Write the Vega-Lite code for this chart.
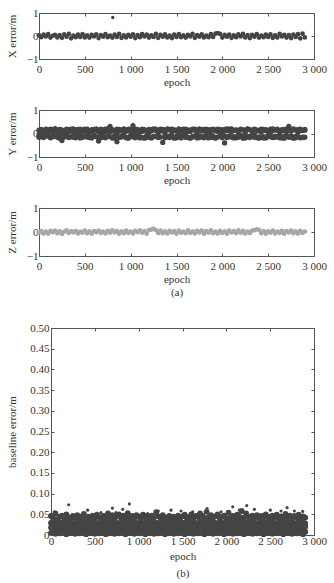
{
"$schema": "https://vega.github.io/schema/vega-lite/v6.json",
"background": "white",
"padding": {"left": 5, "top": 6, "right": 4, "bottom": 1},
"spacing": 15,
"config": {
  "font": "Liberation Serif",
  "view": {"stroke": "#555", "strokeWidth": 1},
  "axis": {"grid": false, "labelFont": "Liberation Serif", "titleFont": "Liberation Serif", "labelFontSize": 11, "titleFontSize": 11, "titleFontWeight": "normal", "labelColor": "#333", "titleColor": "#333", "tickColor": "#555", "domainColor": "#555", "tickSize": -3, "labelPadding": 4, "domain": false, "labelFlush": false, "labelOverlap": false},
  "axisY": {"minExtent": 0}
},
"datasets": {
"a": [
{"e":0,"x":0.03,"y":[0.14,-0.06,-0.16],"z":-0.03,"b":[0.005,0.018,0.029,0.046]},
{"e":25,"x":-0.05,"y":[0.08,-0.13,0.17],"z":0.04,"b":[0.009,0.014,0.031,0.040]},
{"e":50,"x":0.06,"y":[-0.17,0.03,0.12],"z":-0.06,"b":[0.003,0.021,0.026,0.052]},
{"e":75,"x":-0.02,"y":[0.18,-0.09,-0.02],"z":0.02,"b":[0.007,0.016,0.033,0.038]},
{"e":100,"x":0.08,"y":[-0.12,0.15,0.05],"z":-0.07,"b":[0.004,0.019,0.027,0.044]},
{"e":125,"x":-0.07,"y":[0.11,-0.18,0.19],"z":0.05,"b":[0.010,0.013,0.030,0.047]},
{"e":150,"x":0.01,"y":[-0.05,0.16,-0.14],"z":-0.01,"b":[0.006,0.022,0.025,0.041]},
{"e":175,"x":0.05,"y":[0.13,-0.11,0.21],"z":0.06,"b":[0.002,0.017,0.032,0.050]},
{"e":200,"x":-0.06,"y":[-0.16,0.07,0.14],"z":-0.05,"b":[0.008,0.015,0.028,0.043]},
{"e":225,"x":0.04,"y":[0.17,-0.04,-0.2],"z":0.03,"b":[0.005,0.020,0.034,0.039]},
{"e":250,"x":-0.08,"y":[-0.3,0.1,0.15],"z":-0.08,"b":[0.009,0.012,0.029,0.046]},
{"e":275,"x":0.07,"y":[0.12,-0.15,0.02],"z":0.01,"b":[0.003,0.018,0.026,0.042]},
{"e":300,"x":-0.03,"y":[-0.09,0.19,-0.13],"z":0.07,"b":[0.007,0.023,0.031,0.048]},
{"e":325,"x":0.09,"y":[0.16,-0.17,0.06],"z":-0.04,"b":[0.004,0.014,0.027,0.040]},
{"e":350,"x":-0.1,"y":[-0.14,0.11,0.18],"z":0.04,"b":[0.010,0.019,0.033,0.045]},
{"e":375,"x":0.02,"y":[0.2,-0.08,-0.16],"z":-0.02,"b":[0.006,0.016,0.025,0.051]},
{"e":400,"x":-0.05,"y":[-0.18,0.14,0.01],"z":0.05,"b":[0.002,0.021,0.030,0.041]},
{"e":425,"x":0.06,"y":[0.1,-0.12,0.17],"z":-0.06,"b":[0.008,0.013,0.028,0.044]},
{"e":450,"x":-0.04,"y":[-0.07,0.18,-0.19],"z":0.02,"b":[0.005,0.018,0.032,0.039]},
{"e":475,"x":0.08,"y":[0.15,-0.16,0.08],"z":-0.03,"b":[0.009,0.022,0.026,0.047]},
{"e":500,"x":-0.06,"y":[-0.13,0.09,0.19],"z":0.06,"b":[0.003,0.015,0.031,0.042]},
{"e":525,"x":0.03,"y":[0.18,-0.1,-0.15],"z":-0.05,"b":[0.007,0.017,0.029,0.049]},
{"e":550,"x":-0.07,"y":[-0.17,0.12,0.04],"z":0.03,"b":[0.004,0.020,0.027,0.043]},
{"e":575,"x":0.05,"y":[0.11,-0.19,0.16],"z":-0.07,"b":[0.010,0.014,0.033,0.040]},
{"e":600,"x":-0.02,"y":[-0.11,0.17,-0.06],"z":0.04,"b":[0.006,0.023,0.025,0.046]},
{"e":625,"x":0.07,"y":[0.14,-0.14,0.2],"z":-0.01,"b":[0.002,0.016,0.030,0.041]},
{"e":650,"x":-0.09,"y":[-0.32,0.06,0.13],"z":0.06,"b":[0.008,0.019,0.028,0.052]},
{"e":675,"x":0.04,"y":[0.19,-0.07,-0.17],"z":-0.04,"b":[0.005,0.012,0.032,0.044]},
{"e":700,"x":-0.03,"y":[-0.15,0.15,0.03],"z":0.02,"b":[0.009,0.021,0.026,0.048]},
{"e":725,"x":0.08,"y":[0.09,-0.18,0.18],"z":-0.06,"b":[0.003,0.018,0.031,0.039]},
{"e":750,"x":-0.05,"y":[-0.1,0.2,-0.12],"z":0.05,"b":[0.007,0.015,0.029,0.045]},
{"e":775,"x":0.02,"y":[0.3,-0.13,0.07],"z":-0.03,"b":[0.004,0.022,0.027,0.050]},
{"e":800,"x":-0.07,"y":[-0.19,0.11,0.16],"z":0.07,"b":[0.010,0.013,0.034,0.042]},
{"e":825,"x":0.06,"y":[0.13,-0.09,-0.2],"z":-0.02,"b":[0.006,0.019,0.025,0.047]},
{"e":850,"x":-0.04,"y":[-0.35,0.18,0.02],"z":0.04,"b":[0.002,0.017,0.030,0.041]},
{"e":875,"x":0.09,"y":[0.17,-0.16,0.1],"z":-0.07,"b":[0.008,0.024,0.028,0.053]},
{"e":900,"x":-0.08,"y":[-0.12,0.14,-0.15],"z":0.03,"b":[0.005,0.014,0.032,0.043]},
{"e":925,"x":0.03,"y":[0.2,-0.05,0.15],"z":-0.05,"b":[0.009,0.020,0.026,0.046]},
{"e":950,"x":-0.06,"y":[-0.16,0.1,-0.18],"z":0.06,"b":[0.003,0.016,0.031,0.040]},
{"e":975,"x":0.05,"y":[0.12,-0.2,0.19],"z":-0.04,"b":[0.007,0.021,0.029,0.048]},
{"e":1000,"x":-0.03,"y":[-0.08,0.16,-0.1],"z":0.02,"b":[0.004,0.018,0.027,0.044]},
{"e":1025,"x":0.07,"y":[0.33,-0.14,0.05],"z":-0.06,"b":[0.010,0.012,0.033,0.041]},
{"e":1050,"x":-0.09,"y":[-0.18,0.19,-0.03],"z":0.05,"b":[0.006,0.023,0.025,0.049]},
{"e":1075,"x":0.04,"y":[0.14,-0.11,0.17],"z":-0.01,"b":[0.002,0.015,0.030,0.043]},
{"e":1100,"x":-0.05,"y":[-0.13,0.08,-0.19],"z":0.07,"b":[0.008,0.019,0.028,0.046]},
{"e":1125,"x":0.08,"y":[0.18,-0.17,0.09],"z":-0.03,"b":[0.005,0.017,0.032,0.040]},
{"e":1150,"x":-0.02,"y":[-0.2,0.13,0.16],"z":0.04,"b":[0.009,0.022,0.026,0.047]},
{"e":1175,"x":0.06,"y":[0.1,-0.08,-0.16],"z":-0.07,"b":[0.003,0.014,0.031,0.042]},
{"e":1200,"x":-0.07,"y":[-0.15,0.17,0.04],"z":0.08,"b":[0.007,0.020,0.029,0.055]},
{"e":1225,"x":0.03,"y":[0.16,-0.19,0.12],"z":0.1,"b":[0.004,0.016,0.027,0.045]},
{"e":1250,"x":-0.04,"y":[-0.11,0.2,-0.14],"z":0.13,"b":[0.010,0.024,0.034,0.041]},
{"e":1275,"x":0.09,"y":[0.13,-0.12,0.18],"z":0.08,"b":[0.006,0.013,0.025,0.048]},
{"e":1300,"x":-0.08,"y":[-0.17,0.06,-0.08],"z":-0.04,"b":[0.002,0.018,0.030,0.043]},
{"e":1325,"x":0.05,"y":[0.19,-0.15,0.11],"z":0.06,"b":[0.008,0.021,0.028,0.039]},
{"e":1350,"x":-0.03,"y":[-0.38,0.12,0.17],"z":-0.05,"b":[0.005,0.015,0.032,0.046]},
{"e":1375,"x":0.07,"y":[0.11,-0.18,-0.02],"z":0.03,"b":[0.009,0.019,0.026,0.041]},
{"e":1400,"x":-0.06,"y":[-0.14,0.15,0.2],"z":-0.06,"b":[0.003,0.022,0.031,0.044]},
{"e":1425,"x":0.02,"y":[0.17,-0.1,-0.17],"z":0.05,"b":[0.007,0.014,0.029,0.040]},
{"e":1450,"x":-0.09,"y":[-0.09,0.18,0.07],"z":-0.02,"b":[0.004,0.017,0.027,0.047]},
{"e":1475,"x":0.06,"y":[0.14,-0.2,0.15],"z":0.04,"b":[0.010,0.023,0.033,0.042]},
{"e":1500,"x":-0.04,"y":[-0.18,0.1,-0.12],"z":-0.07,"b":[0.006,0.016,0.025,0.045]},
{"e":1525,"x":0.08,"y":[0.2,-0.13,0.04],"z":0.06,"b":[0.002,0.020,0.030,0.049]},
{"e":1550,"x":-0.05,"y":[-0.12,0.16,-0.19],"z":-0.03,"b":[0.008,0.013,0.028,0.041]},
{"e":1575,"x":0.03,"y":[0.12,-0.07,0.18],"z":0.02,"b":[0.005,0.019,0.032,0.043]},
{"e":1600,"x":-0.07,"y":[-0.16,0.19,-0.05],"z":-0.05,"b":[0.009,0.024,0.026,0.050]},
{"e":1625,"x":0.05,"y":[0.15,-0.17,0.1],"z":0.07,"b":[0.003,0.015,0.031,0.040]},
{"e":1650,"x":-0.02,"y":[-0.2,0.09,0.14],"z":-0.04,"b":[0.007,0.018,0.029,0.046]},
{"e":1675,"x":0.09,"y":[0.18,-0.12,-0.15],"z":0.03,"b":[0.004,0.021,0.027,0.044]},
{"e":1700,"x":-0.08,"y":[-0.1,0.14,0.19],"z":-0.06,"b":[0.010,0.014,0.034,0.052]},
{"e":1725,"x":0.04,"y":[0.13,-0.19,0.02],"z":0.05,"b":[0.006,0.022,0.025,0.047]},
{"e":1750,"x":-0.03,"y":[-0.17,0.2,-0.11],"z":-0.02,"b":[0.002,0.017,0.030,0.041]},
{"e":1775,"x":0.07,"y":[0.1,-0.14,0.16],"z":0.06,"b":[0.008,0.020,0.028,0.056]},
{"e":1800,"x":-0.06,"y":[-0.13,0.17,-0.18],"z":-0.07,"b":[0.005,0.013,0.032,0.043]},
{"e":1825,"x":0.02,"y":[0.19,-0.09,0.06],"z":0.04,"b":[0.009,0.019,0.026,0.048]},
{"e":1850,"x":-0.05,"y":[-0.19,0.12,0.15],"z":-0.03,"b":[0.003,0.023,0.031,0.042]},
{"e":1875,"x":0.08,"y":[0.16,-0.16,-0.04],"z":0.07,"b":[0.007,0.016,0.029,0.045]},
{"e":1900,"x":-0.04,"y":[-0.11,0.18,-0.16],"z":-0.05,"b":[0.004,0.018,0.027,0.050]},
{"e":1925,"x":0.1,"y":[0.14,-0.2,0.11],"z":0.02,"b":[0.010,0.021,0.033,0.041]},
{"e":1950,"x":0.13,"y":[-0.15,0.09,0.19],"z":-0.06,"b":[0.006,0.014,0.025,0.044]},
{"e":1975,"x":0.09,"y":[0.17,-0.12,-0.07],"z":0.05,"b":[0.002,0.020,0.030,0.047]},
{"e":2000,"x":-0.07,"y":[-0.18,0.15,0.03],"z":-0.04,"b":[0.008,0.017,0.028,0.040]},
{"e":2025,"x":0.05,"y":[-0.4,-0.1,0.17],"z":0.03,"b":[0.005,0.022,0.032,0.054]},
{"e":2050,"x":-0.03,"y":[0.12,-0.17,0.2],"z":-0.07,"b":[0.009,0.015,0.026,0.043]},
{"e":2075,"x":0.06,"y":[-0.14,0.19,-0.1],"z":0.06,"b":[0.003,0.019,0.031,0.046]},
{"e":2100,"x":-0.08,"y":[0.2,-0.15,0.08],"z":-0.02,"b":[0.007,0.024,0.029,0.041]},
{"e":2125,"x":0.03,"y":[-0.12,0.13,-0.19],"z":0.04,"b":[0.004,0.013,0.027,0.049]},
{"e":2150,"x":-0.05,"y":[0.15,-0.18,0.14],"z":-0.05,"b":[0.010,0.018,0.034,0.044]},
{"e":2175,"x":0.07,"y":[-0.16,0.11,-0.05],"z":0.07,"b":[0.006,0.021,0.025,0.058]},
{"e":2200,"x":-0.02,"y":[0.18,-0.08,0.16],"z":-0.03,"b":[0.002,0.016,0.030,0.042]},
{"e":2225,"x":0.09,"y":[-0.2,0.16,-0.13],"z":0.05,"b":[0.008,0.020,0.028,0.052]},
{"e":2250,"x":-0.06,"y":[0.11,-0.19,0.04],"z":-0.06,"b":[0.005,0.014,0.032,0.045]},
{"e":2275,"x":0.04,"y":[-0.13,0.2,0.18],"z":0.02,"b":[0.009,0.023,0.026,0.040]},
{"e":2300,"x":-0.09,"y":[0.16,-0.11,-0.17],"z":-0.04,"b":[0.003,0.017,0.031,0.047]},
{"e":2325,"x":0.05,"y":[-0.1,0.14,0.09],"z":0.06,"b":[0.007,0.019,0.029,0.043]},
{"e":2350,"x":-0.03,"y":[0.19,-0.16,-0.08],"z":0.08,"b":[0.004,0.022,0.027,0.048]},
{"e":2375,"x":0.08,"y":[-0.17,0.1,0.15],"z":0.11,"b":[0.010,0.015,0.033,0.041]},
{"e":2400,"x":-0.07,"y":[0.13,-0.2,-0.14],"z":0.09,"b":[0.006,0.018,0.025,0.046]},
{"e":2425,"x":0.02,"y":[-0.15,0.18,0.06],"z":-0.05,"b":[0.002,0.021,0.030,0.042]},
{"e":2450,"x":-0.05,"y":[0.17,-0.13,-0.19],"z":0.04,"b":[0.008,0.013,0.028,0.050]},
{"e":2475,"x":0.06,"y":[-0.19,0.12,0.16],"z":-0.07,"b":[0.005,0.020,0.032,0.044]},
{"e":2500,"x":-0.04,"y":[0.1,-0.09,-0.12],"z":0.03,"b":[0.009,0.016,0.026,0.040]},
{"e":2525,"x":0.07,"y":[-0.14,0.19,0.02],"z":-0.03,"b":[0.003,0.024,0.031,0.047]},
{"e":2550,"x":-0.08,"y":[0.2,-0.17,0.13],"z":0.06,"b":[0.007,0.014,0.029,0.043]},
{"e":2575,"x":0.03,"y":[-0.11,0.15,-0.16],"z":-0.06,"b":[0.004,0.019,0.027,0.049]},
{"e":2600,"x":-0.06,"y":[0.14,-0.14,0.19],"z":0.02,"b":[0.010,0.022,0.034,0.042]},
{"e":2625,"x":0.09,"y":[-0.18,0.08,-0.06],"z":-0.04,"b":[0.006,0.017,0.025,0.045]},
{"e":2650,"x":-0.02,"y":[0.16,-0.19,0.11],"z":0.05,"b":[0.002,0.020,0.030,0.041]},
{"e":2675,"x":0.05,"y":[-0.12,0.17,-0.2],"z":-0.07,"b":[0.008,0.013,0.028,0.051]},
{"e":2700,"x":-0.07,"y":[0.19,-0.1,0.07],"z":0.04,"b":[0.005,0.018,0.032,0.044]},
{"e":2725,"x":0.04,"y":[-0.16,0.14,0.3],"z":-0.02,"b":[0.009,0.023,0.026,0.047]},
{"e":2750,"x":-0.09,"y":[0.12,-0.15,-0.09],"z":0.06,"b":[0.003,0.015,0.031,0.040]},
{"e":2775,"x":0.06,"y":[-0.2,0.2,0.15],"z":-0.05,"b":[0.007,0.021,0.029,0.046]},
{"e":2800,"x":-0.04,"y":[0.15,-0.12,-0.18],"z":0.03,"b":[0.004,0.016,0.027,0.043]},
{"e":2825,"x":0.08,"y":[-0.13,0.16,0.05],"z":-0.06,"b":[0.010,0.019,0.033,0.049]},
{"e":2850,"x":-0.1,"y":[0.18,-0.18,0.12],"z":0.05,"b":[0.006,0.022,0.025,0.041]},
{"e":2875,"x":0.1,"y":[-0.17,0.13,-0.15],"z":-0.04,"b":[0.002,0.014,0.030,0.045]},
{"e":2900,"x":-0.06,"y":[0.14,-0.16,0.17],"z":0.02,"b":[0.008,0.020,0.028,0.042]}
],
"xo": [{"e":805,"v":0.8}],
"bo": [
{"e":38,"v":0.056},{"e":202,"v":0.073},{"e":418,"v":0.06},{"e":570,"v":0.054},{"e":741,"v":0.054},{"e":700,"v":0.065},{"e":818,"v":0.062},{"e":894,"v":0.075},{"e":1103,"v":0.052},{"e":1224,"v":0.058},{"e":1369,"v":0.06},{"e":1483,"v":0.058},{"e":1617,"v":0.056},{"e":1780,"v":0.064},{"e":1940,"v":0.056},{"e":2073,"v":0.068},{"e":2149,"v":0.06},{"e":2233,"v":0.071},{"e":2320,"v":0.062},{"e":2502,"v":0.06},{"e":2624,"v":0.058},{"e":2693,"v":0.066},{"e":2776,"v":0.058},{"e":2871,"v":0.057}
]
},
"vconcat": [
{
  "width": 275, "height": 46,
  "resolve": {"axis": {"x": "independent", "y": "independent"}},
  "layer": [
    {"data": {"name": "a"}, "mark": {"type": "circle", "size": 22, "opacity": 1, "color": "#444444"},
     "encoding": {
       "x": {"field": "e", "type": "quantitative", "scale": {"domain": [0, 3000], "nice": false}, "axis": {"values": [0,500,1000,1500,2000,2500,3000], "labelExpr": "replace(format(datum.value, ','), ',', ' ')", "title": "epoch", "titlePadding": 2, "labelPadding": 7}},
       "y": {"field": "x", "type": "quantitative", "scale": {"domain": [-1, 1], "nice": false}, "axis": {"values": [-1,0,1], "labelExpr": "datum.value == 0 ? '0' : datum.value > 0 ? '1' : '\u22121'", "title": "X error/m", "titlePadding": 6, "minExtent": 16, "maxExtent": 16}}}},
    {"data": {"name": "xo"}, "mark": {"type": "circle", "size": 12, "opacity": 1, "color": "#444444"},
     "encoding": {
       "x": {"field": "e", "type": "quantitative", "scale": {"domain": [0, 3000], "nice": false}, "axis": null},
       "y": {"field": "v", "type": "quantitative", "scale": {"domain": [-1, 1], "nice": false}, "axis": null}}},
    {"data": {"name": "xo"}, "mark": {"type": "circle", "opacity": 0},
     "encoding": {
       "x": {"field": "e", "type": "quantitative", "scale": {"domain": [0, 3000], "nice": false}, "axis": {"orient": "top", "labels": false, "title": null, "values": [0,500,1000,1500,2000,2500,3000]}},
       "y": {"field": "v", "type": "quantitative", "scale": {"domain": [-1, 1], "nice": false}, "axis": {"orient": "right", "labels": false, "title": null, "values": [-1,0,1]}}}}
  ]
},
{
  "width": 275, "height": 47,
  "resolve": {"axis": {"x": "independent", "y": "independent"}},
  "layer": [
    {"data": {"name": "a"}, "transform": [{"flatten": ["y"]}], "mark": {"type": "circle", "size": 28, "opacity": 1, "color": "#444444"},
     "encoding": {
       "x": {"field": "e", "type": "quantitative", "scale": {"domain": [0, 3000], "nice": false}, "axis": {"values": [0,500,1000,1500,2000,2500,3000], "labelExpr": "replace(format(datum.value, ','), ',', ' ')", "title": "epoch", "titlePadding": 2, "labelPadding": 7}},
       "y": {"field": "y", "type": "quantitative", "scale": {"domain": [-1, 1], "nice": false}, "axis": {"values": [-1,0,1], "labelExpr": "datum.value == 0 ? '0' : datum.value > 0 ? '1' : '\u22121'", "title": "Y error/m", "titlePadding": 6, "minExtent": 16, "maxExtent": 16}}}},
    {"data": {"name": "xo"}, "mark": {"type": "circle", "opacity": 0},
     "encoding": {
       "x": {"field": "e", "type": "quantitative", "scale": {"domain": [0, 3000], "nice": false}, "axis": {"orient": "top", "labels": false, "title": null, "values": [0,500,1000,1500,2000,2500,3000]}},
       "y": {"field": "v", "type": "quantitative", "scale": {"domain": [-1, 1], "nice": false}, "axis": {"orient": "right", "labels": false, "title": null, "values": [-1,0,1]}}}}
  ]
},
{
  "width": 275, "height": 48,
  "resolve": {"axis": {"x": "independent", "y": "independent"}},
  "layer": [
    {"data": {"name": "a"}, "mark": {"type": "circle", "size": 22, "opacity": 1, "color": "#a6a6a6"},
     "encoding": {
       "x": {"field": "e", "type": "quantitative", "scale": {"domain": [0, 3000], "nice": false}, "axis": {"values": [0,500,1000,1500,2000,2500,3000], "labelExpr": "replace(format(datum.value, ','), ',', ' ')", "title": ["epoch", "(a)"], "titlePadding": 2, "labelPadding": 7}},
       "y": {"field": "z", "type": "quantitative", "scale": {"domain": [-1, 1], "nice": false}, "axis": {"values": [-1,0,1], "labelExpr": "datum.value == 0 ? '0' : datum.value > 0 ? '1' : '\u22121'", "title": "Z error/m", "titlePadding": 6, "minExtent": 16, "maxExtent": 16}}}},
    {"data": {"name": "xo"}, "mark": {"type": "circle", "opacity": 0},
     "encoding": {
       "x": {"field": "e", "type": "quantitative", "scale": {"domain": [0, 3000], "nice": false}, "axis": {"orient": "top", "labels": false, "title": null, "values": [0,500,1000,1500,2000,2500,3000]}},
       "y": {"field": "v", "type": "quantitative", "scale": {"domain": [-1, 1], "nice": false}, "axis": {"orient": "right", "labels": false, "title": null, "values": [-1,0,1]}}}}
  ]
},
{
  "width": 275, "height": 207,
  "view": {"stroke": null},
  "resolve": {"axis": {"x": "independent", "y": "independent"}},
  "layer": [
    {"data": {"name": "a"}, "transform": [{"flatten": ["b"]}], "mark": {"type": "circle", "size": 34, "opacity": 1, "color": "#444444"},
     "encoding": {
       "x": {"field": "e", "type": "quantitative", "scale": {"domain": [0, 3000], "nice": false, "range": [12, 275]}, "axis": {"values": [0,500,1000,1500,2000,2500,3000], "labelExpr": "replace(format(datum.value, ','), ',', ' ')", "title": ["epoch", "(b)"], "titlePadding": 4, "titleLineHeight": 17, "labelPadding": 3, "domain": true}},
       "y": {"field": "b", "type": "quantitative", "scale": {"domain": [0, 0.5], "nice": false}, "axis": {"values": [0,0.05,0.1,0.15,0.2,0.25,0.3,0.35,0.4,0.45,0.5], "labelExpr": "datum.value == 0 ? '0' : format(datum.value, '.2f')", "title": "baseline error/m", "titlePadding": 10, "labelPadding": 5, "minExtent": 24, "maxExtent": 24, "offset": -12, "domain": true}}}},
    {"data": {"name": "bo"}, "mark": {"type": "circle", "size": 10, "opacity": 1, "color": "#444444"},
     "encoding": {
       "x": {"field": "e", "type": "quantitative", "scale": {"domain": [0, 3000], "nice": false, "range": [12, 275]}, "axis": null},
       "y": {"field": "v", "type": "quantitative", "scale": {"domain": [0, 0.5], "nice": false}, "axis": null}}},
    {"data": {"name": "bo"}, "mark": {"type": "circle", "opacity": 0},
     "encoding": {
       "x": {"field": "e", "type": "quantitative", "scale": {"domain": [0, 3000], "nice": false, "range": [12, 275]}, "axis": {"orient": "top", "labels": false, "title": "\u00a0", "titleFontSize": 14, "titlePadding": 0, "domain": true, "values": [0,500,1000,1500,2000,2500,3000]}},
       "y": {"field": "v", "type": "quantitative", "scale": {"domain": [0, 0.5], "nice": false}, "axis": {"orient": "right", "labels": false, "title": null, "domain": true, "values": [0,0.05,0.1,0.15,0.2,0.25,0.3,0.35,0.4,0.45,0.5]}}}}
  ]
}
]
}
